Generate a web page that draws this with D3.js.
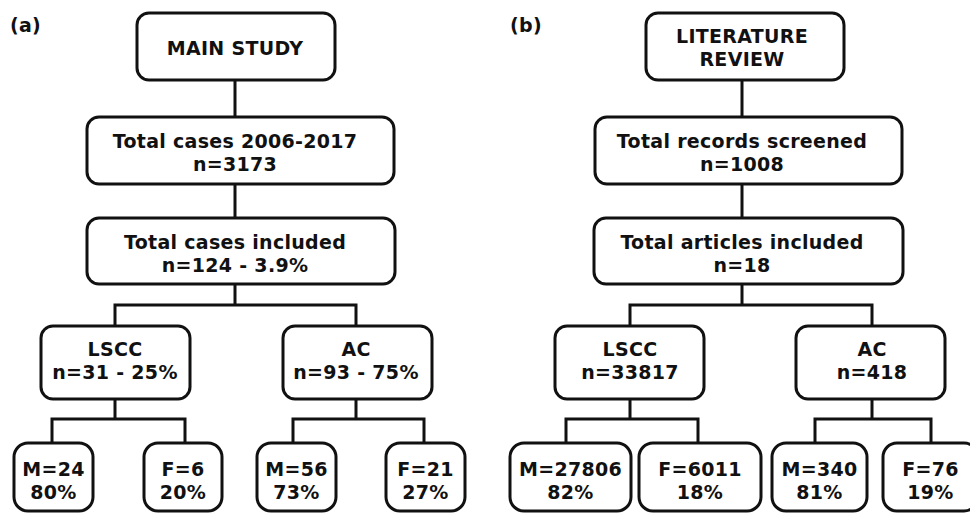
<!DOCTYPE html>
<html>
<head>
<meta charset="utf-8">
<script src="https://cdn.jsdelivr.net/npm/d3@7"></script>
<style>
  html, body { margin: 0; padding: 0; background: #fff; }
  svg { display: block; }
</style>
</head>
<body>
<svg id="chart" width="970" height="513"></svg>
<script>
// ---------------- DATA ----------------
const panelLabels = ["(a)", "(b)"];
const rootLabels = [["MAIN STUDY"], ["LITERATURE", "REVIEW"]];
const screenLabels = ["Total cases 2006-2017", "Total records screened"];
const screenCounts = [3173, 1008];
const includedLabels = ["Total cases included", "Total articles included"];
const includedCounts = [124, 18];
const includedPct = ["3.9%", null];
const groupNames = ["LSCC", "AC"];
const groupCountsA = [31, 93];
const groupPctA = ["25%", "75%"];
const groupCountsB = [33817, 418];
const sexNames = ["M", "F"];
const sexCountsA = [[24, 6], [56, 21]];
const sexPctA = [["80%", "20%"], ["73%", "27%"]];
const sexCountsB = [[27806, 6011], [340, 76]];
const sexPctB = [["82%", "18%"], ["81%", "19%"]];

// ---------------- LAYOUT (pixel geometry, separate from data) ----------------
const rowsY = [[13, 80], [117, 184], [218, 284], [326, 399], [443, 511]];
const rowTextShift = [1.5, 2.5, 2.5, -1.5, 4];
const branchY = [305, 419];
const layout = [
  { label: [10, 25], stem: 235, row0: [137, 335], row1: [87, 394], row2: [87, 395],
    gx: [115, 356], gbox: [[41, 190], [283, 432]],
    sub: [[52, 185], [293, 424]], sbox: [[[14, 93], [144, 222]], [[257, 336], [386, 465]]] },
  { label: [510, 25], stem: 742, row0: [646, 844], row1: [595, 902], row2: [594, 903],
    gx: [630, 872], gbox: [[555, 704], [796, 945]],
    sub: [[566, 698], [815, 931]], sbox: [[[510, 631], [639, 761]], [[772, 867], [883, 978]]] }
];

const fontFamily = "'DejaVu Sans', Verdana, sans-serif";
const fontSize = 19;
const letterSpacing = 0.3;
const lineGap = 23;
const stroke = "#111";
const sw = 3;

const svg = d3.select("#chart");
const gLinks = svg.append("g").attr("fill", "none").attr("stroke", stroke).attr("stroke-width", sw);
const gBoxes = svg.append("g");

function nodeList(p) {
  const L = layout[p];
  const nodes = [];
  nodes.push({ x0: L.row0[0], x1: L.row0[1], row: 0, cx: L.stem, lines: rootLabels[p] });
  nodes.push({ x0: L.row1[0], x1: L.row1[1], row: 1, cx: L.stem,
    lines: [screenLabels[p], "n=" + screenCounts[p]] });
  nodes.push({ x0: L.row2[0], x1: L.row2[1], row: 2, cx: L.stem,
    lines: [includedLabels[p], "n=" + includedCounts[p] + (includedPct[p] ? " - " + includedPct[p] : "")] });
  groupNames.forEach((g, i) => {
    const n = p === 0 ? groupCountsA[i] : groupCountsB[i];
    const second = p === 0 ? "n=" + n + " - " + groupPctA[i] : "n=" + n;
    nodes.push({ x0: L.gbox[i][0], x1: L.gbox[i][1], row: 3, cx: L.gx[i], lines: [g, second] });
    sexNames.forEach((s, j) => {
      const c = p === 0 ? sexCountsA[i][j] : sexCountsB[i][j];
      const pc = p === 0 ? sexPctA[i][j] : sexPctB[i][j];
      const b = L.sbox[i][j];
      nodes.push({ x0: b[0], x1: b[1], row: 4, cx: (b[0] + b[1]) / 2, lines: [s + "=" + c, pc] });
    });
  });
  return nodes;
}

layout.forEach((L, p) => {
  // panel label
  svg.append("text")
    .attr("x", L.label[0]).attr("y", L.label[1]).attr("dy", "0.35em")
    .attr("font-family", fontFamily).attr("font-weight", "bold").attr("font-size", fontSize)
    .attr("letter-spacing", letterSpacing)
    .attr("fill", stroke).text(panelLabels[p]);

  // links
  const path = d3.path();
  path.moveTo(L.stem, rowsY[0][1]); path.lineTo(L.stem, rowsY[1][0]);
  path.moveTo(L.stem, rowsY[1][1]); path.lineTo(L.stem, rowsY[2][0]);
  path.moveTo(L.stem, rowsY[2][1]); path.lineTo(L.stem, branchY[0]);
  path.moveTo(L.gx[0], rowsY[3][0]); path.lineTo(L.gx[0], branchY[0]);
  path.lineTo(L.gx[1], branchY[0]); path.lineTo(L.gx[1], rowsY[3][0]);
  L.gx.forEach((gx, i) => {
    path.moveTo(gx, rowsY[3][1]); path.lineTo(gx, branchY[1]);
    path.moveTo(L.sub[i][0], rowsY[4][0]); path.lineTo(L.sub[i][0], branchY[1]);
    path.lineTo(L.sub[i][1], branchY[1]); path.lineTo(L.sub[i][1], rowsY[4][0]);
  });
  gLinks.append("path").attr("d", path.toString()).attr("stroke-linejoin", "miter");

  // boxes
  const nodes = nodeList(p);
  const g = gBoxes.selectAll(null).data(nodes).join("g");
  g.append("rect")
    .attr("x", d => d.x0).attr("y", d => rowsY[d.row][0])
    .attr("width", d => d.x1 - d.x0).attr("height", d => rowsY[d.row][1] - rowsY[d.row][0])
    .attr("rx", d => d.row === 4 ? 14 : 12)
    .attr("fill", "#fff").attr("stroke", stroke).attr("stroke-width", sw);
  g.each(function (d) {
    const cy = (rowsY[d.row][0] + rowsY[d.row][1]) / 2 + rowTextShift[d.row];
    const n = d.lines.length;
    d3.select(this).selectAll("text").data(d.lines).join("text")
      .attr("x", d.cx)
      .attr("y", (t, k) => cy + (k - (n - 1) / 2) * lineGap)
      .attr("dy", "0.35em")
      .attr("text-anchor", "middle")
      .attr("font-family", fontFamily).attr("font-weight", "bold").attr("font-size", fontSize)
      .attr("letter-spacing", letterSpacing)
      .attr("fill", stroke)
      .text(t => t);
  });
});
</script>
</body>
</html>
